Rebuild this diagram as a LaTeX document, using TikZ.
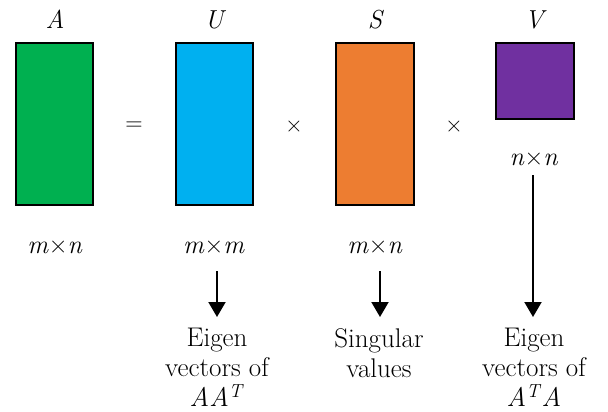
\documentclass[tikz,border=0pt]{standalone}
\usepackage{fontspec}
\usetikzlibrary{arrows.meta}
\definecolor{cgreen}{HTML}{00B050}
\definecolor{cblue}{HTML}{00B0F0}
\definecolor{corange}{HTML}{ED7D31}
\definecolor{cpurple}{HTML}{7030A0}
\tikzset{
  mat/.style={draw=black, line width=2pt},
  lbl/.style={font=\rmfamily\fontsize{26}{28}\selectfont\itshape, anchor=base, inner sep=0pt},
  dim/.style={font=\rmfamily\fontsize{26}{30}\selectfont, anchor=base, inner sep=0pt},
  op/.style={font=\rmfamily\fontsize{24}{30}\selectfont, inner sep=0pt},
  desc/.style={font=\rmfamily\fontsize{27}{30}\selectfont, align=center, anchor=north, inner sep=0pt},
  arr/.style={line width=2pt, -{Triangle[width=17pt,length=15pt]}}
}
\begin{document}
\begin{tikzpicture}[x=1pt,y=-1pt]
\useasboundingbox (0,0) rectangle (608,412);
% matrices
\filldraw[mat, fill=cgreen] (16,43) rectangle (93,205);
\filldraw[mat, fill=cblue] (176,43) rectangle (253,205);
\filldraw[mat, fill=corange] (336,43) rectangle (414,205);
\filldraw[mat, fill=cpurple] (496,43) rectangle (574,119);
% names
\node[lbl] (lA) at (55,29) {A};
\node[lbl] (lU) at (214,29) {U};
\node[lbl] (lS) at (375,29) {S};
\node[lbl] (lV) at (534,29) {V};
% operators
\node[op] (eq) at (134,126) {=};
\node[op] (x1) at (294,127) {×};
\node[op] (x2) at (454,127) {×};
% dimensions
\node[dim] (dA) at (55,253) {\textit{m}×\textit{n}};
\node[dim] (dU) at (214,253) {\textit{m}×\textit{m}};
\node[dim] (dS) at (375,253) {\textit{m}×\textit{n}};
\node[dim] (dV) at (534,165) {\textit{n}×\textit{n}};
% descriptions
\node[desc] (eU) at (217,328) {Eigen\\vectors of\\\textit{AA}\textsuperscript{\textit{T}}};
\node[desc] (sS) at (379,328) {Singular\\values};
\node[desc] (eV) at (534,328) {Eigen\\vectors of\\\textit{A}\textsuperscript{\textit{T}}\textit{A}};
% arrows
\coordinate (aU1) at (217,271); \coordinate (aU2) at (217,317);
\coordinate (aS1) at (380,271); \coordinate (aS2) at (380,317);
\coordinate (aV1) at (533,175); \coordinate (aV2) at (533,317);
\draw[arr] (aU1) -- (aU2);
\draw[arr] (aS1) -- (aS2);
\draw[arr] (aV1) -- (aV2);
\end{tikzpicture}
\end{document}
